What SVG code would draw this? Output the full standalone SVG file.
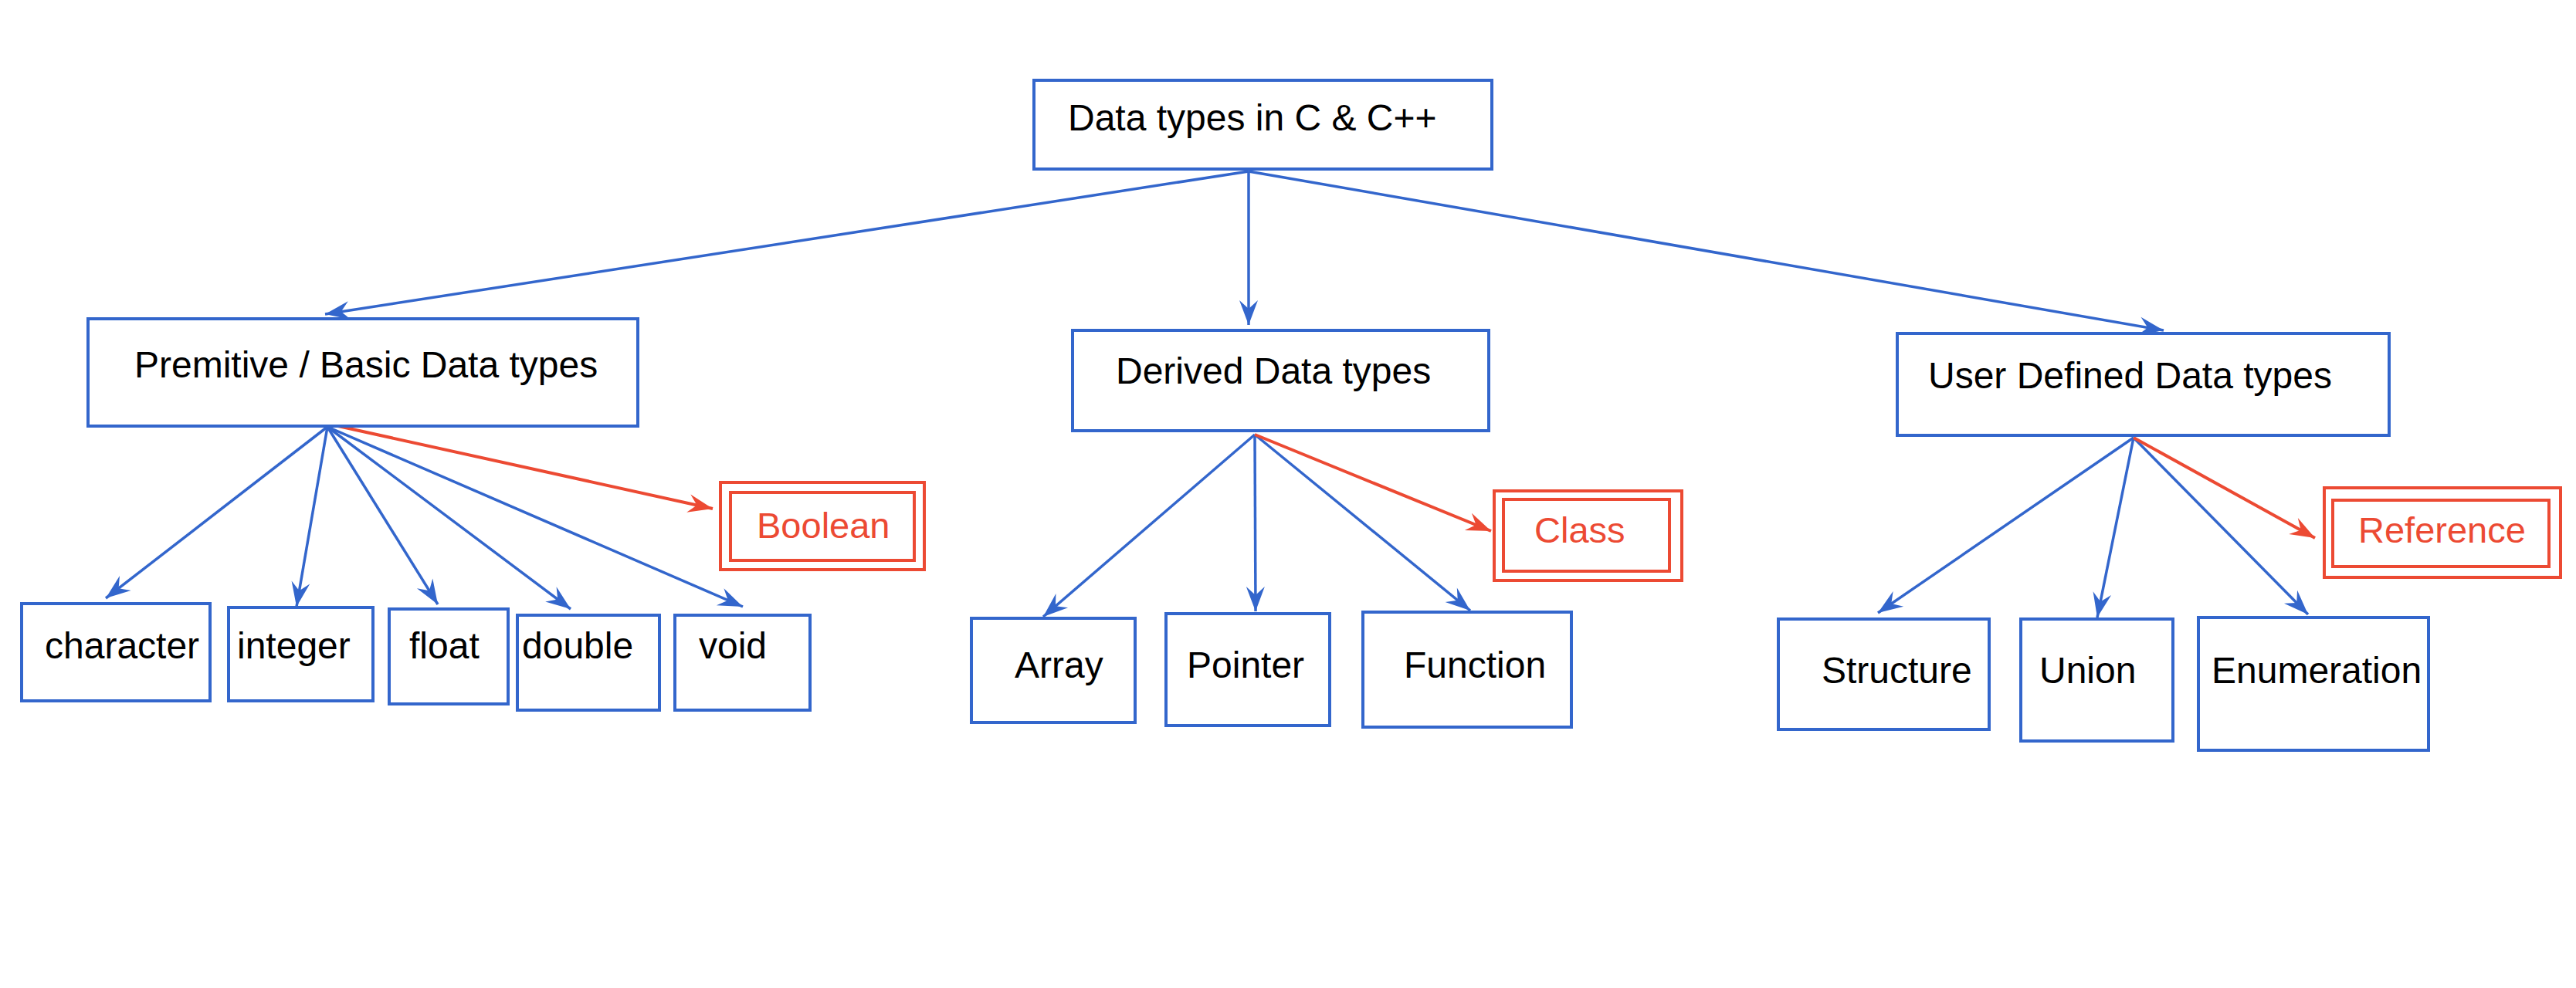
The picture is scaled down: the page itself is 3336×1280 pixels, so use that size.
<svg xmlns="http://www.w3.org/2000/svg" width="3336" height="1280" viewBox="0 0 3336 1280">
<style>
.box{fill:#ffffff;stroke:#3366cc;stroke-width:4}
.rbox{fill:#ffffff;stroke:#ec4a33;stroke-width:4}
.t{font-family:"Liberation Sans",Arial,sans-serif;font-size:48px;fill:#000000}
.rt{font-family:"Liberation Sans",Arial,sans-serif;font-size:47px;fill:#ec4a33}
.c{stroke:#3366cc;stroke-width:3.5;fill:none;marker-end:url(#ab)}
.cr{stroke:#ec4a33;stroke-width:4;fill:none;marker-end:url(#ar)}
</style>
<defs>
<marker id="ab" viewBox="-34 -14 36 28" refX="0" refY="0" markerWidth="36" markerHeight="28" markerUnits="userSpaceOnUse" orient="auto">
<path d="M0,0 L-32,-12 L-21,0 L-32,12 Z" fill="#3366cc"/>
</marker>
<marker id="ar" viewBox="-34 -14 36 28" refX="0" refY="0" markerWidth="36" markerHeight="28" markerUnits="userSpaceOnUse" orient="auto">
<path d="M0,0 L-32,-12 L-21,0 L-32,12 Z" fill="#ec4a33"/>
</marker>
</defs>
<rect x="0" y="0" width="3336" height="1280" fill="#ffffff"/>
<g id="connectors">
<line class="c" x1="1617" y1="222" x2="421" y2="407"/>
<line class="c" x1="1617" y1="222" x2="1617" y2="421"/>
<line class="c" x1="1617" y1="222" x2="2802" y2="428"/>
<line class="c" x1="424" y1="553" x2="137" y2="775"/>
<line class="c" x1="424" y1="553" x2="384" y2="786"/>
<line class="c" x1="424" y1="553" x2="567" y2="783"/>
<line class="c" x1="424" y1="553" x2="739" y2="789"/>
<line class="c" x1="424" y1="553" x2="962" y2="786"/>
<line class="cr" x1="438" y1="552" x2="923" y2="659"/>
<line class="c" x1="1625" y1="563" x2="1351" y2="799"/>
<line class="c" x1="1625" y1="563" x2="1626" y2="792"/>
<line class="c" x1="1625" y1="563" x2="1904" y2="791"/>
<line class="cr" x1="1625" y1="563" x2="1931" y2="688"/>
<line class="c" x1="2763" y1="567" x2="2432" y2="794"/>
<line class="c" x1="2763" y1="567" x2="2716" y2="800"/>
<line class="c" x1="2763" y1="567" x2="2989" y2="796"/>
<line class="cr" x1="2763" y1="567" x2="2998" y2="697"/>
</g>
<g id="root"><rect class="box" x="1339" y="104" width="593" height="115"/><text class="t" x="1383" y="169">Data types in C &amp; C++</text></g>
<g id="primitive"><rect class="box" x="114" y="413" width="712" height="139"/><text class="t" x="174" y="489">Premitive / Basic Data types</text></g>
<g id="derived"><rect class="box" x="1389" y="428" width="539" height="130"/><text class="t" x="1445" y="497">Derived Data types</text></g>
<g id="userdefined"><rect class="box" x="2457" y="432" width="637" height="132"/><text class="t" x="2497" y="503">User Defined Data types</text></g>
<g id="character"><rect class="box" x="28" y="782" width="244" height="126"/><text class="t" x="58" y="853">character</text></g>
<g id="integer"><rect class="box" x="296" y="787" width="187" height="121"/><text class="t" x="307" y="853">integer</text></g>
<g id="float"><rect class="box" x="504" y="789" width="154" height="123"/><text class="t" x="530" y="853">float</text></g>
<g id="double"><rect class="box" x="670" y="797" width="184" height="123"/><text class="t" x="676" y="853">double</text></g>
<g id="void"><rect class="box" x="874" y="797" width="175" height="123"/><text class="t" x="905" y="853">void</text></g>
<g id="boolean"><rect class="rbox" x="933" y="625" width="264" height="113"/><rect class="rbox" x="946" y="638" width="238" height="88"/><text class="rt" x="980" y="697">Boolean</text></g>
<g id="array"><rect class="box" x="1258" y="801" width="212" height="135"/><text class="t" x="1314" y="878">Array</text></g>
<g id="pointer"><rect class="box" x="1510" y="795" width="212" height="145"/><text class="t" x="1537" y="878">Pointer</text></g>
<g id="function"><rect class="box" x="1765" y="793" width="270" height="149"/><text class="t" x="1818" y="878">Function</text></g>
<g id="class"><rect class="rbox" x="1935" y="636" width="243" height="116"/><rect class="rbox" x="1947" y="647" width="215" height="93"/><text class="rt" x="1987" y="703">Class</text></g>
<g id="structure"><rect class="box" x="2303" y="802" width="273" height="143"/><text class="t" x="2359" y="885">Structure</text></g>
<g id="union"><rect class="box" x="2617" y="802" width="197" height="158"/><text class="t" x="2641" y="885">Union</text></g>
<g id="enumeration"><rect class="box" x="2847" y="800" width="298" height="172"/><text class="t" x="2864" y="885">Enumeration</text></g>
<g id="reference"><rect class="rbox" x="3010" y="632" width="306" height="116"/><rect class="rbox" x="3021" y="648" width="280" height="86"/><text class="rt" x="3054" y="703">Reference</text></g>
</svg>
